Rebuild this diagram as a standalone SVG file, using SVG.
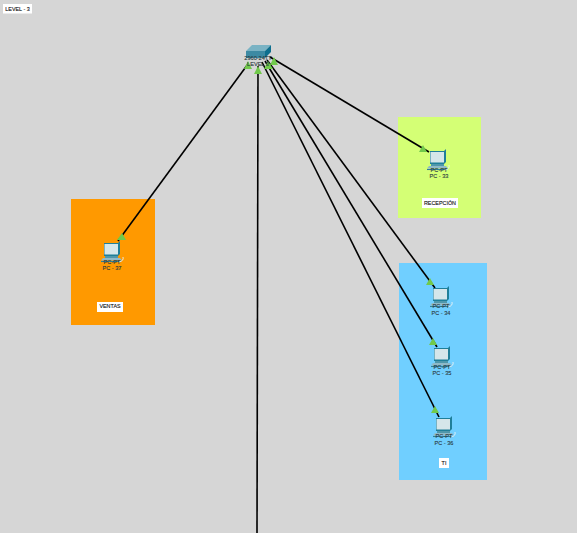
<svg xmlns="http://www.w3.org/2000/svg" width="577" height="533" viewBox="0 0 577 533">
<style>
text{font-family:"Liberation Sans",Arial,sans-serif;font-size:5.6px;text-anchor:middle;fill:#2a3a40;stroke:#2a3a40;stroke-width:.12}
.lb{fill:#fff}
.lt{fill:#111;stroke:#111;font-size:5.4px}
.c{stroke:#000;stroke-width:1.6;fill:none}
.t{fill:#71c94b}
</style>
<defs>
<g id="pc">
<path d="M-8 -7 H6 L8 -9 V4 L6 6 H-8Z" fill="#1f7f99"/>
<rect x="-7.500" y="-6" width="13.500" height="10.500" fill="#d5e6ea"/>
<path d="M-7 6 H6 V8 H-7Z" fill="#4f97ab"/>
<path d="M-9 8 H8 L10 10.500 H-11Z" fill="#8fb9c8"/>
<path d="M-11 11.500 H9" stroke="#2f7f99" stroke-width="1.100"/>
<path d="M7 12 Q12 11 11 7" stroke="#e8f2f6" stroke-width=".9" fill="none"/>
</g>
</defs>
<rect width="577" height="533" fill="#d6d6d6"/>
<rect x="398" y="117" width="83" height="101" fill="#d4ff75"/>
<rect x="71" y="199" width="84" height="126" fill="#ff9900"/>
<rect x="399" y="263" width="88" height="217" fill="#70cfff"/>
<g id="connectors">
<path class="c" d="M248 64 L118 241"/>
<path class="c" d="M258 66 L257 533"/>
<path class="c" d="M262 62 L439 417"/>
<path class="c" d="M265 61 L437 347"/>
<path class="c" d="M267 60 L435 288"/>
<path class="c" d="M270 57 L429 152"/>
<path class="t" d="M248 61 L252 69 L244 69Z"/>
<path class="t" d="M258 66 L262 74 L254 74Z"/>
<path class="t" d="M268 61 L273 69 L264 69Z"/>
<path class="t" d="M274 57 L278 65 L270 65Z"/>
<path class="t" d="M122 233 L126 240 L117 240Z"/>
<path class="t" d="M423 145 L427 152 L419 152Z"/>
<path class="t" d="M430 278 L434 285 L426 285Z"/>
<path class="t" d="M433 338 L437 345 L429 345Z"/>
<path class="t" d="M435 406 L439 413 L431 413Z"/>
</g>
<g id="switch">
<path d="M246 51 L252 45 L271 45 L265 51Z" fill="#7ab3c4"/>
<path d="M246 51 H265 V58 H246Z" fill="#3d8aa3"/>
<path d="M265 51 L271 45 V52 L265 58Z" fill="#0e6f8e"/>
<text x="258" y="60">2960-24TT</text>
<text x="258" y="66">LEVEL 3</text>
</g>
<g id="pc33"><use href="#pc" x="438" y="158"/><text x="439" y="172">PC-PT</text><text x="439" y="178">PC - 33</text></g>
<g id="pc37"><use href="#pc" x="112" y="250"/><text x="112" y="264">PC-PT</text><text x="112" y="270">PC - 37</text></g>
<g id="pc34"><use href="#pc" x="441" y="295"/><text x="441" y="308">PC-PT</text><text x="441" y="315">PC - 34</text></g>
<g id="pc35"><use href="#pc" x="442" y="355"/><text x="442" y="369">PC-PT</text><text x="442" y="375">PC - 35</text></g>
<g id="pc36"><use href="#pc" x="444" y="425"/><text x="444" y="438">PC-PT</text><text x="444" y="445">PC - 36</text></g>
<g id="level"><rect class="lb" x="3" y="4" width="29" height="9.500"/><text class="lt" x="17.500" y="10.500">LEVEL - 3</text></g>
<g id="recepcion"><rect class="lb" x="422" y="198" width="36" height="10"/><text class="lt" x="440" y="205">RECEPCIÓN</text></g>
<g id="ventas"><rect class="lb" x="97" y="302" width="26" height="10"/><text class="lt" x="110" y="308">VENTAS</text></g>
<g id="ti"><rect class="lb" x="439" y="458" width="10" height="10"/><text class="lt" x="444" y="465">TI</text></g>
</svg>
